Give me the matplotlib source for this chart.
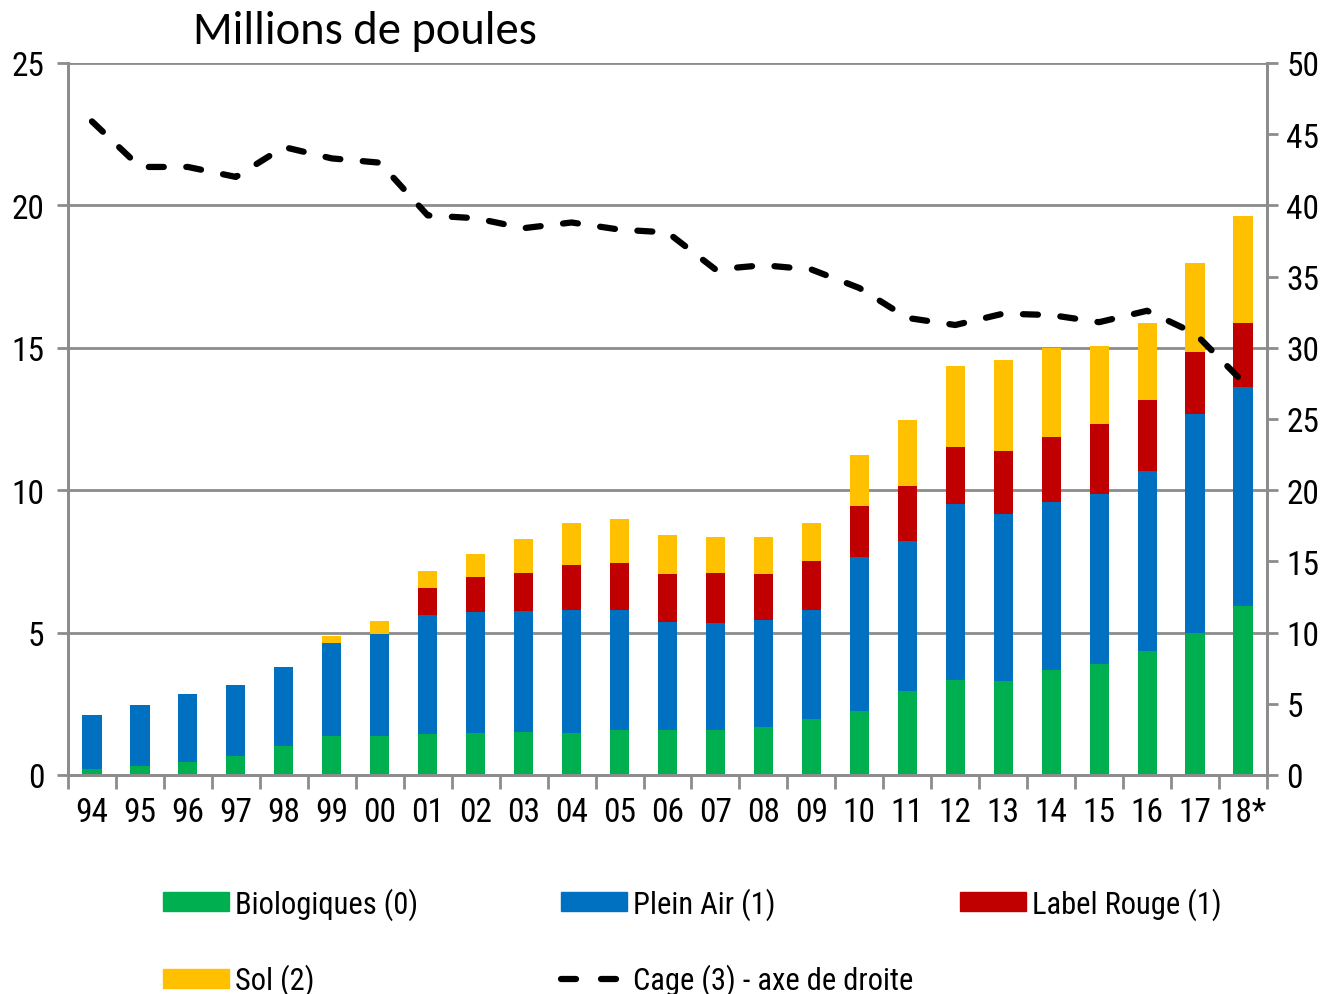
import matplotlib.pyplot as plt
import matplotlib.font_manager as fm
import numpy as np
from matplotlib.patches import Patch
from matplotlib.lines import Line2D

installed = set(f.name for f in fm.fontManager.ttflist)


def pick(names):
    for n in names:
        if n in installed:
            return [n, 'DejaVu Sans']
    return ['DejaVu Sans']


narrow = pick(['Liberation Sans Narrow', 'Arial Narrow', 'Roboto Condensed', 'Archivo Narrow'])
title_font = pick(['Carlito', 'Calibri', 'Lato'])
fsize = 24
leg_size = 22

years = ['94', '95', '96', '97', '98', '99', '00', '01', '02', '03', '04', '05', '06',
         '07', '08', '09', '10', '11', '12', '13', '14', '15', '16', '17', '18*']

# millions of hens, left axis
bio = [0.20, 0.30, 0.44, 0.68, 1.03, 1.36, 1.36, 1.43, 1.46, 1.50, 1.46, 1.59, 1.59,
       1.59, 1.67, 1.96, 2.26, 2.96, 3.34, 3.31, 3.69, 3.88, 4.35, 4.98, 5.95]
plein_air = [1.91, 2.15, 2.41, 2.49, 2.75, 3.26, 3.60, 4.20, 4.25, 4.27, 4.35, 4.21, 3.77,
             3.76, 3.76, 3.85, 5.40, 5.24, 6.18, 5.87, 5.88, 6.00, 6.32, 7.71, 7.66]
label_rouge = [0, 0, 0, 0, 0, 0, 0, 0.92, 1.25, 1.34, 1.56, 1.66, 1.70,
               1.75, 1.63, 1.71, 1.79, 1.95, 1.99, 2.21, 2.31, 2.46, 2.51, 2.16, 2.27]
sol = [0, 0, 0, 0, 0, 0.26, 0.46, 0.60, 0.79, 1.16, 1.49, 1.52, 1.37,
       1.27, 1.30, 1.32, 1.77, 2.30, 2.84, 3.19, 3.11, 2.71, 2.69, 3.13, 3.76]
# cage, right axis
cage = [45.9, 42.7, 42.7, 42.0, 44.1, 43.3, 43.0, 39.3, 39.1, 38.4, 38.8, 38.3, 38.1,
        35.5, 35.8, 35.5, 34.2, 32.1, 31.6, 32.4, 32.3, 31.8, 32.6, 31.0, 27.6]

c_bio = '#00B050'
c_pa = '#0070C0'
c_lr = '#C00000'
c_sol = '#FFC000'
grey = '#8C8C8C'

x = np.arange(len(years))
w = 0.40

fig = plt.figure(figsize=(13.28, 9.95), dpi=100)
ax = fig.add_axes([68 / 1328, 1 - 776 / 995, (1267 - 68) / 1328, (776 - 64) / 995])

b1 = np.array(bio)
b2 = b1 + np.array(plein_air)
b3 = b2 + np.array(label_rouge)
ax.bar(x, bio, w, color=c_bio, zorder=2)
ax.bar(x, plein_air, w, bottom=b1, color=c_pa, zorder=2)
ax.bar(x, label_rouge, w, bottom=b2, color=c_lr, zorder=2)
ax.bar(x, sol, w, bottom=b3, color=c_sol, zorder=2)

ax.set_xlim(-0.5, len(years) - 0.5)
ax.set_ylim(0, 25)
ax.set_yticks(np.arange(0, 26, 5))
ax.yaxis.grid(True, color=grey, lw=2)
ax.set_axisbelow(True)
ax.set_xticks(x)
ax.set_xticklabels(years)
ax.set_xticks(np.arange(-0.5, len(years), 1), minor=True)
ax.tick_params(axis='x', which='major', length=0, pad=15)
ax.tick_params(axis='x', which='minor', length=10, width=2, color=grey)
ax.tick_params(axis='y', length=8, width=2, color=grey, pad=9)
for lab in ax.get_xticklabels() + ax.get_yticklabels():
    lab.set_family(narrow)
    lab.set_fontsize(fsize)
ax.spines['top'].set_visible(False)
for s in ['left', 'right', 'bottom']:
    ax.spines[s].set_color(grey)
    ax.spines[s].set_linewidth(2)

ax2 = ax.twinx()
ax2.plot(x, cage, color='black', lw=4.5, linestyle=(0, (2.4, 3.6)),
         dash_capstyle='round', zorder=5)
ax2.set_ylim(0, 50)
ax2.set_yticks(np.arange(0, 51, 5))
ax2.tick_params(axis='y', length=8, width=2, color=grey, pad=6)
for lab in ax2.get_yticklabels():
    lab.set_family(narrow)
    lab.set_fontsize(fsize)
ax2.spines['top'].set_visible(False)
for s in ['left', 'right', 'bottom']:
    ax2.spines[s].set_color(grey)
    ax2.spines[s].set_linewidth(2)

fig.text(193 / 1328, 1 - 31 / 995, 'Millions de poules', fontsize=33.5,
         family=title_font, va='center', ha='left')

# legend, laid out in three columns
leg_kw = dict(frameon=False, prop={'family': narrow, 'size': leg_size},
              handlelength=2.15, handleheight=0.55, handletextpad=0.2,
              labelspacing=1.45, borderpad=0, borderaxespad=0, loc='upper left')
h_bio = Patch(color=c_bio)
h_sol = Patch(color=c_sol)
h_pa = Patch(color=c_pa)
h_lr = Patch(color=c_lr)
h_cage = Line2D([], [], color='black', lw=4.5, linestyle=(0, (2.4, 4.0)),
                dash_capstyle='round')
fig.legend([h_bio, h_sol], ['Biologiques (0)', 'Sol (2)'],
           bbox_to_anchor=(163 / 1328, 1 - 888 / 995), **leg_kw)
fig.legend([h_pa, h_cage], ['Plein Air (1)', 'Cage (3) - axe de droite'],
           bbox_to_anchor=(561 / 1328, 1 - 888 / 995), **leg_kw)
fig.legend([h_lr], ['Label Rouge (1)'],
           bbox_to_anchor=(960 / 1328, 1 - 888 / 995), **leg_kw)

fig.savefig('out.png', dpi=100)
